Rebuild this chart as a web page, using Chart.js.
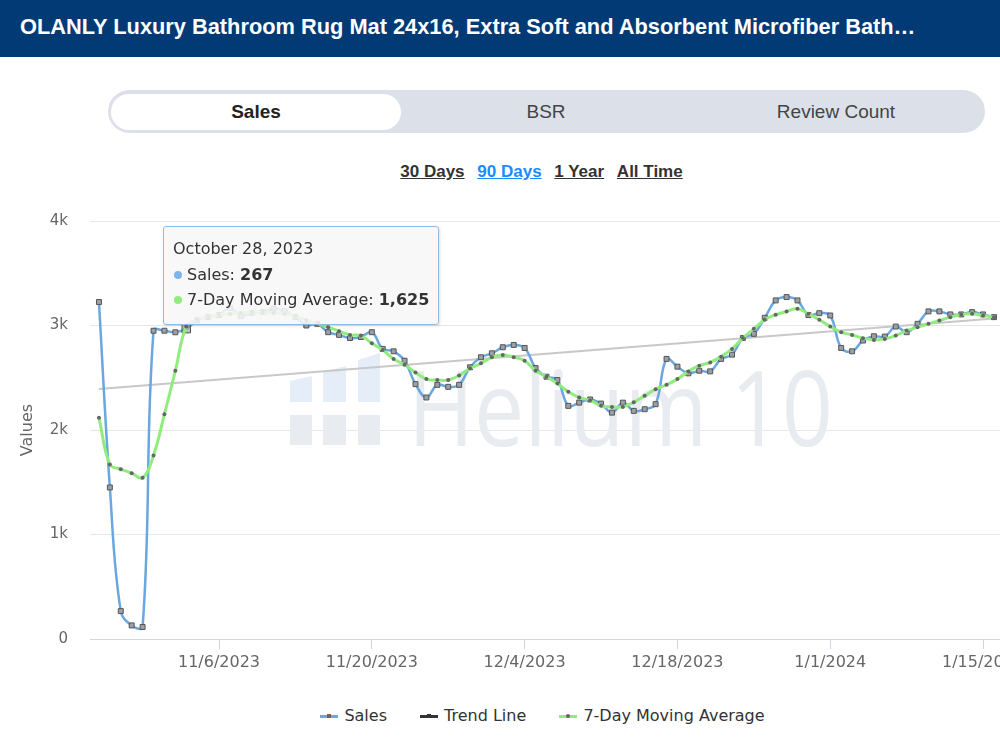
<!DOCTYPE html>
<html>
<head>
<meta charset="utf-8">
<script src="https://cdn.jsdelivr.net/npm/chart.js@4.4.1/dist/chart.umd.min.js"></script>
<style>
html, body { margin: 0; padding: 0; }
body { width: 1000px; height: 749px; overflow: hidden; background: #fff; position: relative; font-family: "Liberation Sans", Arial, sans-serif; }
.top { position: absolute; left: 0; top: 0; width: 1000px; height: 57px; background: #013a75; }
.top h1 { margin: 0; position: absolute; left: 20px; top: 14px; font-size: 21.8px; font-weight: bold; color: #fff; white-space: nowrap; }
.tabs { position: absolute; left: 108px; top: 90px; width: 877px; height: 43px; background: #dce1e9; border-radius: 22px; }
.tab { position: absolute; top: 4px; width: 290px; height: 36px; line-height: 36px; text-align: center; font-size: 19px; color: #444; }
.tab.on { background: #fff; border-radius: 18px; font-weight: bold; color: #222; }
.ranges { position: absolute; left: 0; top: 162px; width: 1083px; text-align: center; font-size: 17px; font-weight: bold; }
.ranges span { color: #333; text-decoration: underline; margin: 0 4px; }
.ranges span.on { color: #1a8cff; }
#wrap { position: absolute; left: 0; top: 190px; width: 1090px; height: 490px; }
.tip { position: absolute; left: 163px; top: 226px; width: 265px; height: 88px; padding: 9px 0 0 9px; border: 1px solid #8fbbe6; border-radius: 3px;
       background: rgba(247,247,247,0.88); box-shadow: 1px 1px 3px rgba(0,0,0,0.12); font-family: "DejaVu Sans", sans-serif; font-size: 16px; color: #333; line-height: 25.5px; }
.tip i { display: inline-block; width: 8px; height: 8px; border-radius: 50%; margin: 0 5px 1px 1px; vertical-align: middle; }
.legend { position: absolute; left: 0; top: 706px; width: 1085px; text-align: center; font-family: "DejaVu Sans", sans-serif; font-size: 16px; color: #333; }
.legend span.item { display: inline-block; margin: 0 14px; }
.legend .sym { display: inline-block; position: relative; width: 18px; height: 3px; vertical-align: middle; margin-right: 6px; }
.legend .sym b { position: absolute; left: 7px; top: -1px; width: 4px; height: 4px; }
</style>
</head>
<body>
<div class="top"><h1>OLANLY Luxury Bathroom Rug Mat 24x16, Extra Soft and Absorbent Microfiber Bath…</h1></div>
<div class="tabs">
  <div class="tab on" style="left:3px">Sales</div>
  <div class="tab" style="left:293px">BSR</div>
  <div class="tab" style="left:583px">Review Count</div>
</div>
<div class="ranges"><span>30 Days</span> <span class="on">90 Days</span> <span>1 Year</span> <span>All Time</span></div>
<div id="wrap"><canvas id="salesChart" width="1090" height="490"></canvas></div>
<div class="tip" id="tip"></div>
<div class="legend">
  <span class="item"><span class="sym" style="background:#6aa6e0"><b style="background:#666"></b></span>Sales</span>
  <span class="item"><span class="sym" style="background:#333"><b style="background:#333"></b></span>Trend Line</span>
  <span class="item"><span class="sym" style="background:#90ed7d"><b style="background:#666;border-radius:50%"></b></span>7-Day Moving Average</span>
</div>
<script>
// day 0 = Oct 26, 2023
const sales = [3225, 1450, 267, 130, 115, 2950, 2950, 2935, 2970, 3050,
  3080, 3100, 3170, 3090, 3120, 3130, 3160, 3140, 3080, 3000,
  3016, 2936, 2910, 2880, 2890, 2936, 2776, 2753, 2663, 2439,
  2311, 2432, 2413, 2432, 2600, 2696, 2734, 2792, 2814, 2785,
  2593, 2510, 2478, 2231, 2262, 2292, 2253, 2166, 2262, 2183,
  2199, 2247, 2680, 2606, 2542, 2567, 2561, 2680, 2721, 2881,
  2920, 3074, 3240, 3272, 3240, 3100, 3118, 3096, 2785, 2753,
  2856, 2897, 2894, 2990, 2936, 3016, 3135, 3135, 3106, 3106,
  3128, 3106, 3080];
const movingAvg = [2118, 1670, 1625, 1587, 1542, 1757, 2151, 2567, 2990, 3060,
  3080, 3100, 3110, 3120, 3130, 3130, 3120, 3110, 3090, 3050,
  3016, 2984, 2946, 2910, 2904, 2830, 2766, 2680, 2625, 2551,
  2487, 2478, 2478, 2522, 2590, 2638, 2696, 2718, 2696, 2663,
  2567, 2510, 2446, 2365, 2311, 2285, 2231, 2221, 2221, 2265,
  2327, 2391, 2433, 2487, 2561, 2615, 2647, 2702, 2776, 2881,
  2968, 3055, 3103, 3135, 3160, 3112, 3055, 2990, 2936, 2910,
  2878, 2862, 2872, 2904, 2952, 2984, 3016, 3048, 3080, 3106,
  3112, 3096, 3080];
const trendDays = [0, 82];
const trendValues = [2392, 3068];
const tickDays = [11, 25, 39, 53, 67, 81];
const tickLabels = ['11/6/2023', '11/20/2023', '12/4/2023', '12/18/2023', '1/1/2024', '1/15/2024'];
const yTicks = [0, 1000, 2000, 3000, 4000];
const tipIndex = 2;
const tipDate = 'October 28, 2023';
const hoverIndex = 8;

const fmt = n => n.toLocaleString('en-US');
document.getElementById('tip').innerHTML =
  '<div>' + tipDate + '</div>' +
  '<div><i style="background:#7cb5ec"></i>Sales: <b>' + fmt(sales[tipIndex]) + '</b></div>' +
  '<div><i style="background:#90ed7d"></i>7-Day Moving Average: <b>' + fmt(movingAvg[tipIndex]) + '</b></div>';

const toXY = arr => arr.map((v, i) => ({ x: i, y: v }));

// faint Helium 10 watermark behind the lines (page y minus canvas top 190)
const watermark = {
  id: 'watermark',
  beforeDatasetsDraw(chart) {
    const c = chart.ctx;
    c.save();
    c.translate(0, 10);
    c.fillStyle = '#e4edf8';
    c.beginPath();
    c.moveTo(290, 181); c.lineTo(312, 176); c.lineTo(312, 202); c.lineTo(290, 202); c.closePath();
    c.moveTo(323, 172); c.lineTo(346, 166); c.lineTo(346, 202); c.lineTo(323, 202); c.closePath();
    c.moveTo(358, 160); c.lineTo(380, 153); c.lineTo(380, 202); c.lineTo(358, 202); c.closePath();
    c.fill();
    c.fillStyle = '#e8ebf0';
    c.fillRect(290, 215, 22, 30);
    c.fillRect(323, 215, 23, 30);
    c.fillRect(358, 215, 22, 30);
    c.font = '104px "Open Sans", sans-serif';
    c.textBaseline = 'alphabetic';
    c.fillText('Helium 10', 408, 246, 425);
    c.restore();
  }
};

new Chart(document.getElementById('salesChart'), {
  type: 'line',
  data: {
    datasets: [
      {
        label: 'Sales',
        data: toXY(sales),
        borderColor: '#6aa6e0',
        borderWidth: 2.5,
        tension: 0.4,
        pointStyle: 'rect',
        pointRadius: ctx => ctx.dataIndex === hoverIndex ? 6 : 3.5,
        pointBackgroundColor: ctx => ctx.dataIndex === hoverIndex ? 'rgba(140,145,155,0.6)' : '#9aa0a8',
        pointBorderColor: '#555',
        pointBorderWidth: 1,
        order: 2
      },
      {
        label: 'Trend Line',
        data: trendDays.map((d, i) => ({ x: d, y: trendValues[i] })),
        borderColor: '#c8c8c8',
        borderWidth: 2,
        pointRadius: 0,
        order: 3
      },
      {
        label: '7-Day Moving Average',
        data: toXY(movingAvg),
        borderColor: '#90ed7d',
        borderWidth: 3,
        tension: 0.4,
        pointStyle: 'circle',
        pointRadius: 2,
        pointBackgroundColor: '#666',
        pointBorderWidth: 0,
        order: 1
      }
    ]
  },
  options: {
    responsive: false,
    animation: false,
    events: [],
    layout: { padding: { top: 11, left: 0, right: 0, bottom: 0 } },
    plugins: { legend: { display: false }, tooltip: { enabled: false } },
    scales: {
      x: {
        type: 'linear',
        min: -0.82,
        max: 90.34,
        afterBuildTicks: s => { s.ticks = tickDays.map(v => ({ value: v })); },
        afterFit: s => { s.height = 41; },
        ticks: {
          callback: v => tickLabels[tickDays.indexOf(v)],
          color: '#666',
          font: { family: 'DejaVu Sans', size: 16 },
          padding: 4,
          maxRotation: 0,
          autoSkip: false
        },
        grid: { drawOnChartArea: false, color: '#ccd6eb', tickLength: 10 },
        border: { color: '#ccd6eb', width: 1 }
      },
      y: {
        min: 0,
        max: 4000,
        afterBuildTicks: s => { s.ticks = yTicks.map(v => ({ value: v })); },
        afterFit: s => { s.width = 90; },
        ticks: {
          callback: v => v === 0 ? '0' : (v / 1000) + 'k',
          color: '#666',
          font: { family: 'DejaVu Sans', size: 15 },
          padding: 22
        },
        grid: { color: ctx => ctx.tick.value === 0 ? 'rgba(0,0,0,0)' : '#e6e6e6', drawTicks: false },
        border: { display: false },
        title: { display: true, text: 'Values', color: '#666', font: { family: 'DejaVu Sans', size: 16 }, padding: { top: 18, bottom: 0 } }
      }
    }
  },
  plugins: [watermark]
});
</script>
</body>
</html>
